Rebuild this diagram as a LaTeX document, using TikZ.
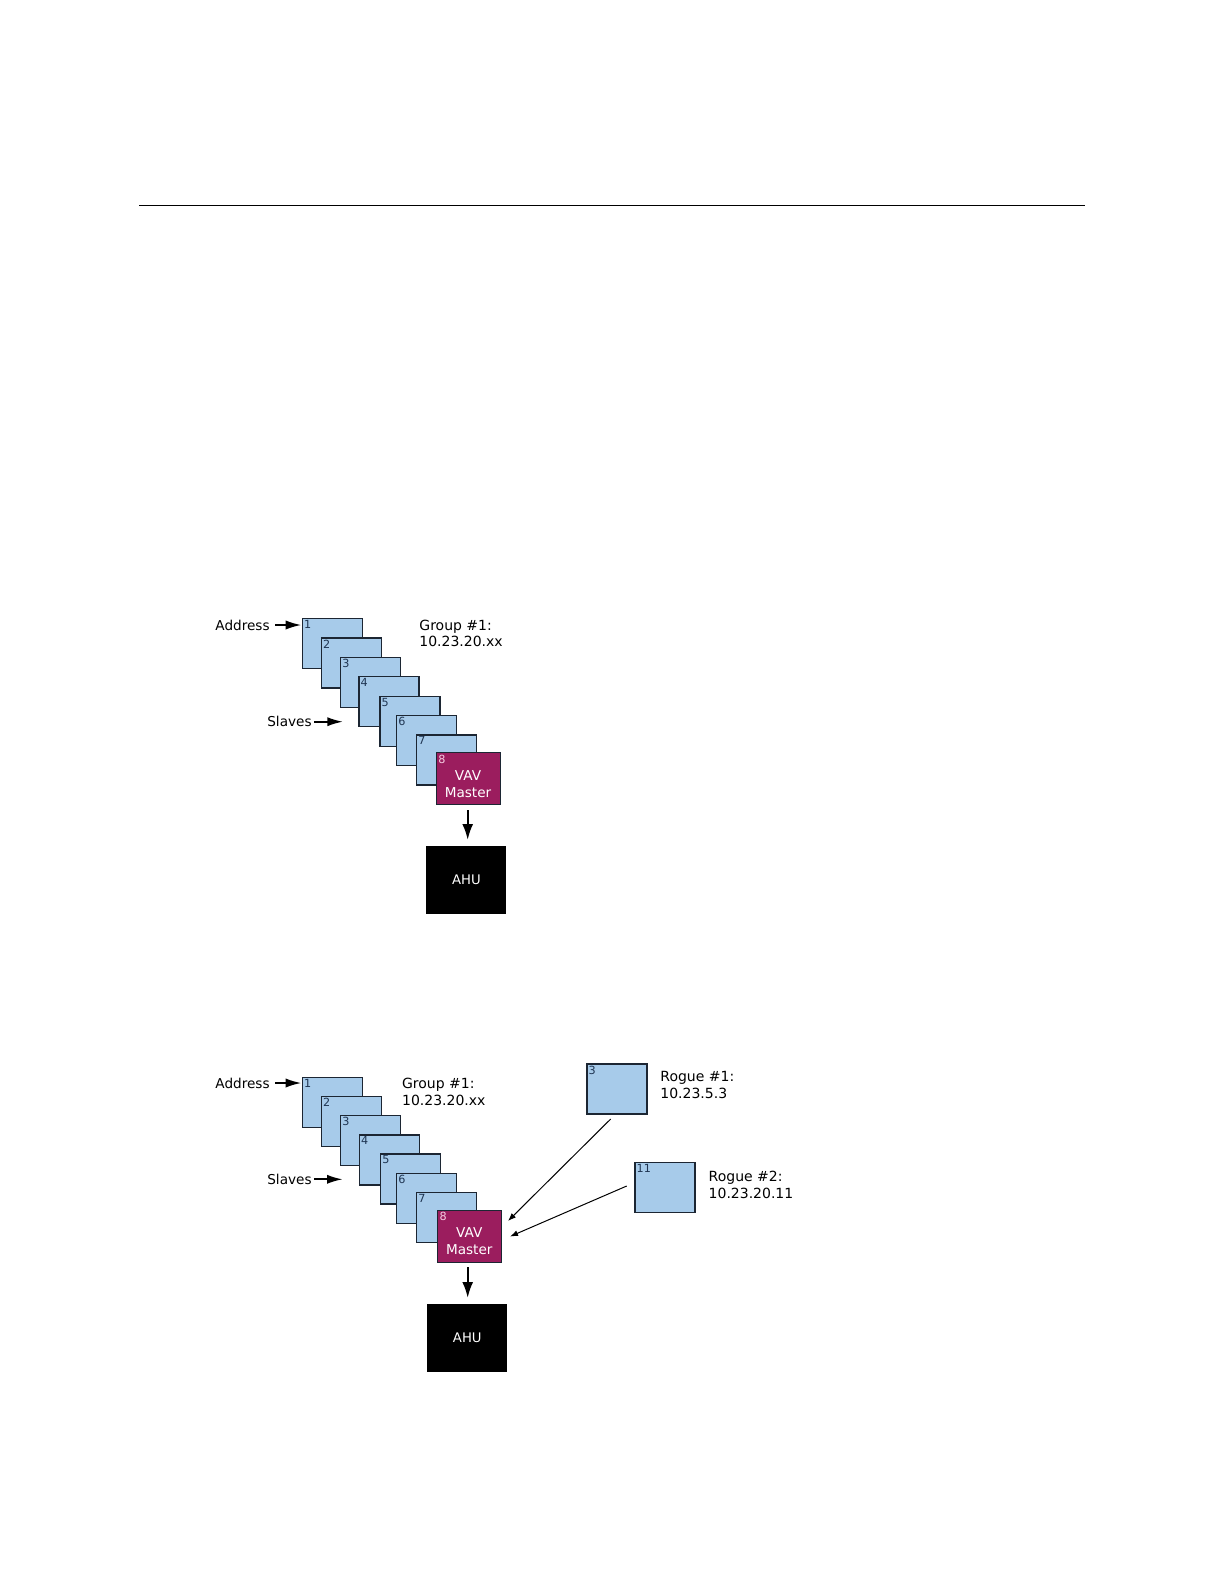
\documentclass[tikz,border=0pt]{standalone}
\usepackage{fontspec}
\setmainfont{DejaVu Sans}
\usetikzlibrary{arrows.meta}
\definecolor{boxblue}{HTML}{A7CBEA}
\definecolor{boxedge}{HTML}{1C2633}
\definecolor{mastercol}{HTML}{9B1D5E}
\definecolor{numcol}{HTML}{1F3552}
\definecolor{pinknum}{HTML}{F6CDE2}
\tikzset{
  bbox/.style={draw=boxedge, fill=boxblue, line width=0.6pt, minimum width=30pt, minimum height=25pt, anchor=north west, inner sep=0pt},
  master/.style={draw=boxedge, fill=mastercol, line width=0.5pt, minimum width=32pt, minimum height=26pt, anchor=north west, inner sep=0pt},
  ahu/.style={fill=black, minimum width=40pt, minimum height=33.8pt, anchor=north west, inner sep=0pt},
  ahutext/.style={inner sep=0pt, text=white, font=\fontsize{6.6}{8}\selectfont},
  num/.style={anchor=north west, inner sep=1pt, font=\fontsize{5.6}{6}\selectfont, text=numcol},
  lbl/.style={inner sep=0pt, font=\fontsize{6.8}{8}\selectfont},
  grp/.style={inner sep=0pt, align=left, anchor=west, font=\fontsize{7}{8.4}\selectfont},
  fatarr/.style={line width=1.1pt, -{Latex[length=8pt,width=4.6pt]}},
  downarr/.style={line width=1.1pt, -{Latex[length=8pt,width=5.5pt]}},
  thinarr/.style={line width=0.5pt, -{Latex[length=4pt,width=3pt]}},
  mtext/.style={inner sep=0pt, text=white, font=\fontsize{6.8}{8.6}\selectfont, align=center}
}
\begin{document}
\begin{tikzpicture}[x=0.5pt, y=-0.5pt]
\useasboundingbox (0,0) rectangle (1224,1584);
\fill[white] (0,0) rectangle (1224,1584);

% top rule
\coordinate (ruleL) at (139.4,205.5);
\coordinate (ruleR) at (1084.6,205.5);
\draw[line width=0.8pt] (ruleL) -- (ruleR);

% ---------- diagram 1 ----------
\foreach \i/\x/\y in {1/301.7/617.8, 2/320.7/637.3, 3/340/656.7, 4/358.3/676, 5/379.3/695.7, 6/396/715, 7/416/734.3} {
  \node[bbox] (a\i) at (\x,\y) {};
  \node[num] at (a\i.north west) {\i};
}
\node[master] (am) at (436,752.3) {};
\node[num, text=pinknum] at (am.north west) {8};
\node[mtext] at (468,784) {VAV\\Master};
\node[ahu] (aahu) at (426,846) {};
\node[ahutext] at (466.5,880) {AHU};

\node[lbl, anchor=east] (aaddr) at (270,625) {Address};
\draw[fatarr] ([xshift=2.5pt]aaddr.east) -- (aaddr.east -| a1.west);
\node[lbl, anchor=east] (aslv) at (312,721.7) {Slaves};
\coordinate (aslvend) at (343.3,721.7);
\draw[fatarr] ([xshift=1pt]aslv.east) -- (aslvend);
\node[grp] (agrp) at (419,633.3) {Group \#1:\\10.23.20.xx};

\coordinate (amout) at (467.7,810);
\coordinate (ahuin) at (467.7,840);
\draw[downarr] (amout) -- (ahuin);

% ---------- diagram 2 ----------
\foreach \i/\x/\y in {1/301.7/1076.7, 2/320.7/1095.7, 3/340/1115, 4/358.7/1134.3, 5/380/1153.3, 6/396/1172.7, 7/416/1192} {
  \node[bbox] (b\i) at (\x,\y) {};
  \node[num] at (b\i.north west) {\i};
}
\node[master] (bm) at (437.3,1210) {};
\node[num, text=pinknum] at (bm.north west) {8};
\node[mtext] at (469.3,1241.5) {VAV\\Master};
\node[ahu] (bahu) at (426.7,1303.5) {};
\node[ahutext] at (467.3,1338) {AHU};

\node[lbl, anchor=east] (baddr) at (270,1083) {Address};
\draw[fatarr] ([xshift=2.5pt]baddr.east) -- (baddr.east -| b1.west);
\node[lbl, anchor=east] (bslv) at (312,1179.3) {Slaves};
\coordinate (bslvend) at (343,1179.3);
\draw[fatarr] ([xshift=1pt]bslv.east) -- (bslvend);
\node[grp] (bgrp) at (401.7,1091.7) {Group \#1:\\10.23.20.xx};

\coordinate (bmout) at (467.7,1267.3);
\coordinate (bhuin) at (467.7,1298);
\draw[downarr] (bmout) -- (bhuin);

% rogues
\node[bbox] (r1) at (586.3,1063.3) {};
\node[num] at (r1.north west) {3};
\node[grp] (r1t) at (660,1085) {Rogue \#1:\\10.23.5.3};
\node[bbox] (r2) at (634.3,1161.7) {};
\node[num] at (r2.north west) {11};
\node[grp] (r2t) at (708.3,1184.6) {Rogue \#2:\\10.23.20.11};

\coordinate (r1out) at (610.7,1119);
\coordinate (m1in) at (508,1221);
\coordinate (r2out) at (626.7,1186);
\coordinate (m2in) at (510,1236.5);
\draw[thinarr] (r1out) -- (m1in);
\draw[thinarr] (r2out) -- (m2in);
\end{tikzpicture}
\end{document}
